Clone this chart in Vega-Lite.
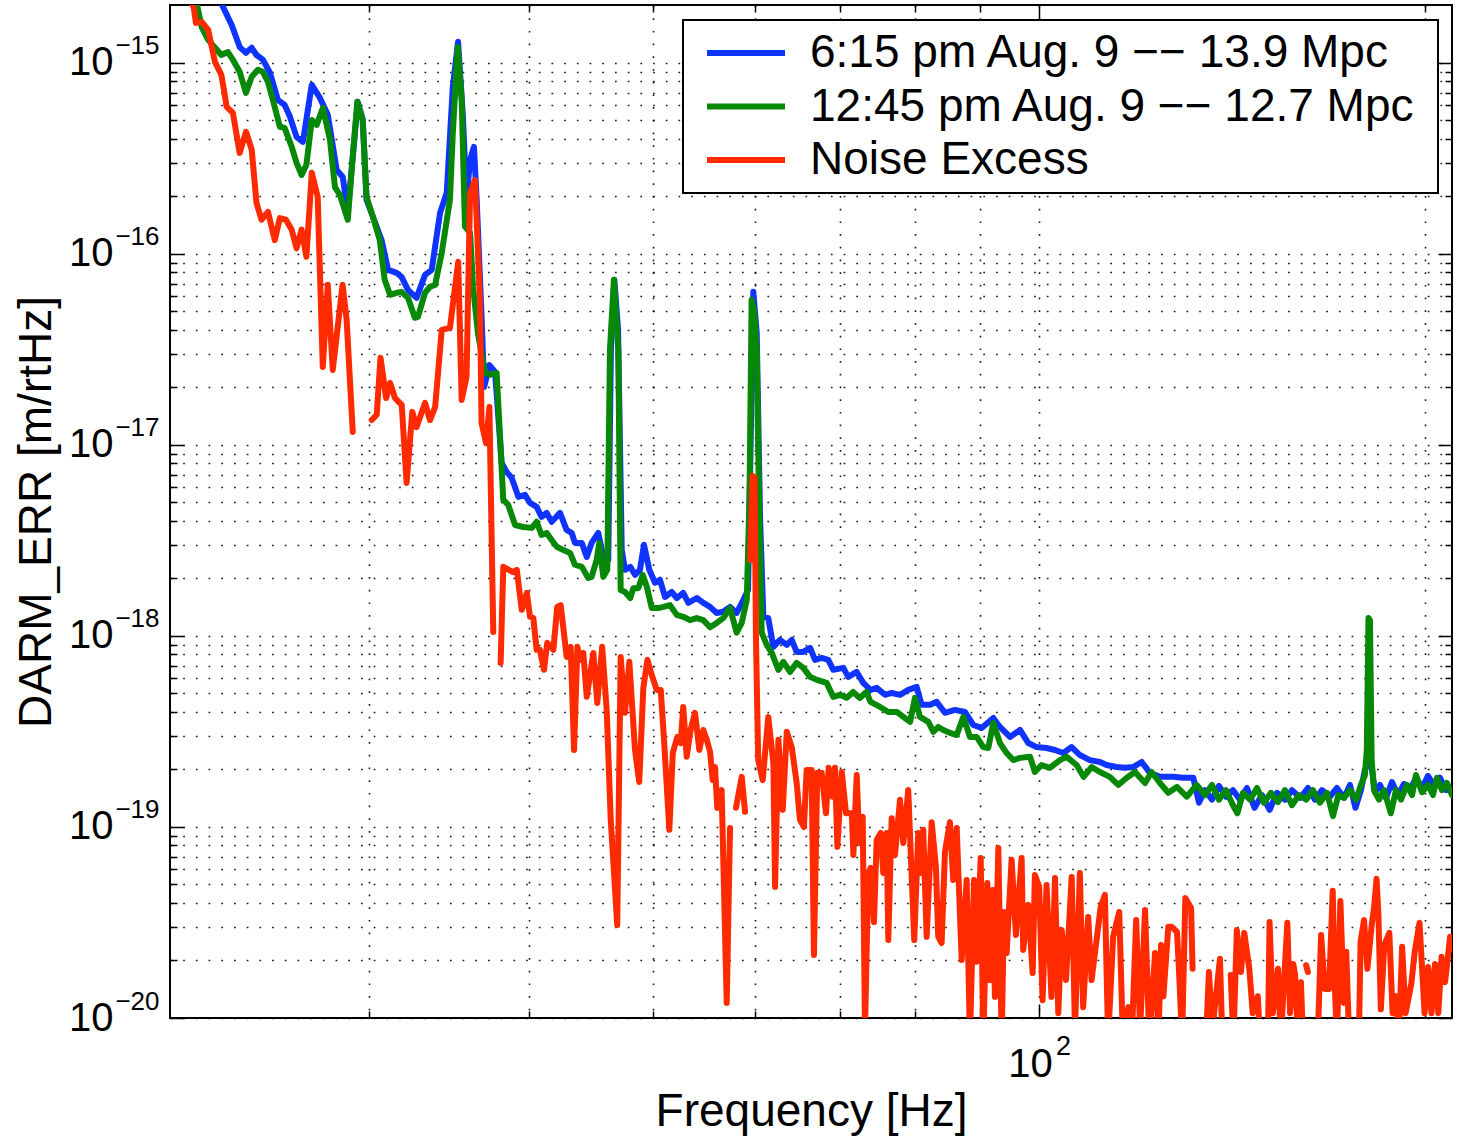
{
"$schema": "https://vega.github.io/schema/vega-lite/v6.json",
"width": 1282, "height": 1013,
"autosize": {"type": "none"},
"padding": {"left": 170, "top": 5, "right": 6, "bottom": 118},
"background": "white",
"config": {"font": "Liberation Sans", "view": {"stroke": "black", "strokeWidth": 2}},
"datasets": {
"blue": [{"f":21,"v":5.61e-15},{"f":22.0,"v":3.26e-15},{"f":23.06,"v":2.01e-15},{"f":23.46,"v":1.58e-15},{"f":23.80,"v":1.21e-15},{"f":24.07,"v":1.13e-15},{"f":24.32,"v":1.20e-15},{"f":24.53,"v":1.10e-15},{"f":24.81,"v":1.04e-15},{"f":25.13,"v":8.88e-16},{"f":25.49,"v":6.41e-16},{"f":25.80,"v":6.03e-16},{"f":26.05,"v":5.22e-16},{"f":26.36,"v":4.10e-16},{"f":26.66,"v":3.86e-16},{"f":27.09,"v":7.68e-16},{"f":27.49,"v":6.56e-16},{"f":27.88,"v":5.35e-16},{"f":28.14,"v":3.64e-16},{"f":28.33,"v":2.75e-16},{"f":28.64,"v":2.53e-16},{"f":28.90,"v":1.64e-16},{"f":29.42,"v":6.26e-16},{"f":29.69,"v":5.03e-16},{"f":29.89,"v":1.92e-16},{"f":30.24,"v":1.56e-16},{"f":30.71,"v":1.18e-16},{"f":31.07,"v":8.25e-17},{"f":31.55,"v":7.96e-17},{"f":31.83,"v":7.59e-17},{"f":32.20,"v":6.48e-17},{"f":32.70,"v":5.89e-17},{"f":33.20,"v":7.77e-17},{"f":33.60,"v":8.25e-17},{"f":34.11,"v":1.64e-16},{"f":34.52,"v":2.09e-16},{"f":34.90,"v":7.50e-16},{"f":35.23,"v":1.29e-15},{"f":35.54,"v":5.22e-16},{"f":35.77,"v":1.92e-16},{"f":36.0,"v":3.11e-16},{"f":36.25,"v":3.64e-16},{"f":36.43,"v":1.92e-16},{"f":36.75,"v":4.68e-17},{"f":36.92,"v":2.01e-17},{"f":37.27,"v":2.62e-17},{"f":37.65,"v":2.41e-17},{"f":38.10,"v":8.06e-18},{"f":38.44,"v":7.23e-18},{"f":38.79,"v":6.73e-18},{"f":39.26,"v":5.35e-18},{"f":39.73,"v":5.48e-18},{"f":40.09,"v":4.97e-18},{"f":40.57,"v":4.74e-18},{"f":40.93,"v":4.20e-18},{"f":41.31,"v":4.41e-18},{"f":41.68,"v":3.96e-18},{"f":42.31,"v":4.41e-18},{"f":42.81,"v":3.59e-18},{"f":43.21,"v":3.46e-18},{"f":43.46,"v":3.07e-18},{"f":44.0,"v":3.07e-18},{"f":44.39,"v":2.59e-18},{"f":44.78,"v":3.07e-18},{"f":45.32,"v":3.46e-18},{"f":45.73,"v":2.59e-18},{"f":46.14,"v":2.50e-18},{"f":46.36,"v":3.15e-17},{"f":46.65,"v":7.32e-17},{"f":46.96,"v":4.00e-17},{"f":47.27,"v":2.82e-18},{"f":47.55,"v":2.22e-18},{"f":48.0,"v":2.30e-18},{"f":48.41,"v":2.09e-18},{"f":48.84,"v":2.22e-18},{"f":49.20,"v":3.00e-18},{"f":49.67,"v":2.22e-18},{"f":50.18,"v":1.90e-18},{"f":50.63,"v":1.97e-18},{"f":51.09,"v":1.60e-18},{"f":51.71,"v":1.70e-18},{"f":52.18,"v":1.58e-18},{"f":52.79,"v":1.68e-18},{"f":53.28,"v":1.49e-18},{"f":54.09,"v":1.58e-18},{"f":54.73,"v":1.49e-18},{"f":55.40,"v":1.42e-18},{"f":56.06,"v":1.32e-18},{"f":56.72,"v":1.34e-18},{"f":57.42,"v":1.42e-18},{"f":58.11,"v":1.32e-18},{"f":58.80,"v":1.54e-18},{"f":59.31,"v":1.74e-18},{"f":59.63,"v":1.35e-17},{"f":59.87,"v":6.33e-17},{"f":60.24,"v":3.86e-17},{"f":60.6,"v":4.20e-18},{"f":60.96,"v":1.26e-18},{"f":61.50,"v":1.24e-18},{"f":62.07,"v":8.77e-19},{"f":62.81,"v":9.54e-19},{"f":63.58,"v":8.98e-19},{"f":64.15,"v":9.54e-19},{"f":64.72,"v":8.25e-19},{"f":65.50,"v":8.25e-19},{"f":66.30,"v":8.66e-19},{"f":66.89,"v":7.50e-19},{"f":67.70,"v":7.68e-19},{"f":68.50,"v":7.50e-19},{"f":69.12,"v":6.65e-19},{"f":70.38,"v":6.81e-19},{"f":71.01,"v":6.11e-19},{"f":72.09,"v":6.48e-19},{"f":72.94,"v":5.68e-19},{"f":73.9,"v":5.22e-19},{"f":74.72,"v":5.35e-19},{"f":75.85,"v":4.92e-19},{"f":76.76,"v":5.03e-19},{"f":77.92,"v":4.92e-19},{"f":79.08,"v":5.22e-19},{"f":80.29,"v":5.41e-19},{"f":81.0,"v":4.36e-19},{"f":82.24,"v":4.36e-19},{"f":83.22,"v":4.52e-19},{"f":84.47,"v":3.96e-19},{"f":86.0,"v":4.10e-19},{"f":87.56,"v":4.00e-19},{"f":88.87,"v":3.42e-19},{"f":90.23,"v":3.30e-19},{"f":92.13,"v":3.72e-19},{"f":93.24,"v":3.34e-19},{"f":94.93,"v":2.96e-19},{"f":96.66,"v":3.22e-19},{"f":98.11,"v":2.75e-19},{"f":99.59,"v":2.62e-19},{"f":101.38,"v":2.59e-19},{"f":102.93,"v":2.53e-19},{"f":104.46,"v":2.44e-19},{"f":106.06,"v":2.62e-19},{"f":107.63,"v":2.38e-19},{"f":109.59,"v":2.24e-19},{"f":111.58,"v":2.19e-19},{"f":112.92,"v":2.11e-19},{"f":115.0,"v":2.06e-19},{"f":116.72,"v":2.04e-19},{"f":118.46,"v":2.06e-19},{"f":120.27,"v":2.19e-19},{"f":122.06,"v":1.92e-19},{"f":124.29,"v":1.83e-19},{"f":127.30,"v":1.83e-19},{"f":129.60,"v":1.81e-19},{"f":131.95,"v":1.81e-19},{"f":133.31,"v":1.34e-19},{"f":134.74,"v":1.56e-19},{"f":136.46,"v":1.39e-19},{"f":138.18,"v":1.64e-19},{"f":139.93,"v":1.44e-19},{"f":141.69,"v":1.56e-19},{"f":143.48,"v":1.39e-19},{"f":145.31,"v":1.60e-19},{"f":147.31,"v":1.26e-19},{"f":149.28,"v":1.47e-19},{"f":151.35,"v":1.23e-19},{"f":153.36,"v":1.51e-19},{"f":155.56,"v":1.39e-19},{"f":157.54,"v":1.56e-19},{"f":159.9,"v":1.42e-19},{"f":162.12,"v":1.60e-19},{"f":164.17,"v":1.39e-19},{"f":166.27,"v":1.56e-19},{"f":168.67,"v":1.44e-19},{"f":170.80,"v":1.60e-19},{"f":172.96,"v":1.42e-19},{"f":174.84,"v":1.66e-19},{"f":176.56,"v":1.26e-19},{"f":178.32,"v":1.56e-19},{"f":179.6,"v":1.99e-19},{"f":181.06,"v":2.30e-19},{"f":181.9,"v":1.99e-19},{"f":182.88,"v":1.52e-19},{"f":184.53,"v":1.66e-19},{"f":186.53,"v":1.42e-19},{"f":188.53,"v":1.72e-19},{"f":190.58,"v":1.47e-19},{"f":192.65,"v":1.68e-19},{"f":194.73,"v":1.56e-19},{"f":196.84,"v":1.81e-19},{"f":199.0,"v":1.60e-19},{"f":201.13,"v":1.85e-19},{"f":203.31,"v":1.66e-19},{"f":205.52,"v":1.81e-19},{"f":207.74,"v":1.56e-19},{"f":210,"v":1.56e-19}],
"green": [{"f":21,"v":3.46e-15},{"f":21.5,"v":2.56e-15},{"f":22.03,"v":2.06e-15},{"f":22.23,"v":1.54e-15},{"f":22.49,"v":1.32e-15},{"f":22.77,"v":1.20e-15},{"f":23.03,"v":1.10e-15},{"f":23.30,"v":1.14e-15},{"f":23.51,"v":1.04e-15},{"f":23.80,"v":8.98e-16},{"f":24.07,"v":6.97e-16},{"f":24.32,"v":8.46e-16},{"f":24.59,"v":9.20e-16},{"f":24.81,"v":8.98e-16},{"f":25.04,"v":7.96e-16},{"f":25.26,"v":6.41e-16},{"f":25.58,"v":4.63e-16},{"f":25.80,"v":4.57e-16},{"f":26.13,"v":3.64e-16},{"f":26.36,"v":3.00e-16},{"f":26.60,"v":2.59e-16},{"f":26.83,"v":2.93e-16},{"f":27.09,"v":5.03e-16},{"f":27.33,"v":4.74e-16},{"f":27.64,"v":5.82e-16},{"f":27.99,"v":3.96e-16},{"f":28.24,"v":2.24e-16},{"f":28.49,"v":2.04e-16},{"f":28.90,"v":1.51e-16},{"f":29.10,"v":2.75e-16},{"f":29.40,"v":6.26e-16},{"f":29.68,"v":5.03e-16},{"f":29.89,"v":1.99e-16},{"f":30.24,"v":1.56e-16},{"f":30.61,"v":1.18e-16},{"f":30.88,"v":7.32e-17},{"f":31.18,"v":6.11e-17},{"f":31.55,"v":6.26e-17},{"f":31.83,"v":6.33e-17},{"f":32.20,"v":5.89e-17},{"f":32.60,"v":4.63e-17},{"f":32.78,"v":4.68e-17},{"f":33.20,"v":6.26e-17},{"f":33.50,"v":6.73e-17},{"f":33.81,"v":6.89e-17},{"f":34.21,"v":1.01e-16},{"f":34.72,"v":1.92e-16},{"f":34.90,"v":4.30e-16},{"f":35.21,"v":1.21e-15},{"f":35.46,"v":6.41e-16},{"f":35.67,"v":1.39e-16},{"f":36.0,"v":1.29e-16},{"f":36.19,"v":6.73e-17},{"f":36.51,"v":3.86e-17},{"f":36.98,"v":2.38e-17},{"f":37.31,"v":2.33e-17},{"f":37.76,"v":2.38e-17},{"f":37.99,"v":1.10e-17},{"f":38.21,"v":5.16e-18},{"f":38.55,"v":4.86e-18},{"f":39.03,"v":3.81e-18},{"f":39.60,"v":3.72e-18},{"f":40.22,"v":3.68e-18},{"f":40.57,"v":3.96e-18},{"f":40.93,"v":3.38e-18},{"f":41.31,"v":3.46e-18},{"f":41.68,"v":3.18e-18},{"f":42.06,"v":2.93e-18},{"f":42.56,"v":2.82e-18},{"f":43.08,"v":2.72e-18},{"f":43.46,"v":2.36e-18},{"f":44.0,"v":2.30e-18},{"f":44.51,"v":2.01e-18},{"f":44.78,"v":2.04e-18},{"f":45.19,"v":2.50e-18},{"f":45.40,"v":3.07e-18},{"f":45.73,"v":2.04e-18},{"f":46.06,"v":2.22e-18},{"f":46.28,"v":3.15e-17},{"f":46.61,"v":7.32e-17},{"f":46.98,"v":3.15e-17},{"f":47.18,"v":1.74e-18},{"f":47.55,"v":1.70e-18},{"f":48.0,"v":1.58e-18},{"f":48.27,"v":1.78e-18},{"f":48.70,"v":1.78e-18},{"f":49.08,"v":2.09e-18},{"f":49.45,"v":1.81e-18},{"f":49.89,"v":1.40e-18},{"f":50.48,"v":1.40e-18},{"f":50.94,"v":1.42e-18},{"f":51.55,"v":1.45e-18},{"f":52.18,"v":1.29e-18},{"f":52.79,"v":1.26e-18},{"f":53.44,"v":1.21e-18},{"f":54.09,"v":1.24e-18},{"f":54.73,"v":1.21e-18},{"f":55.40,"v":1.11e-18},{"f":56.06,"v":1.17e-18},{"f":56.72,"v":1.24e-18},{"f":57.42,"v":1.40e-18},{"f":58.11,"v":1.04e-18},{"f":58.64,"v":1.17e-18},{"f":59.17,"v":1.54e-18},{"f":59.46,"v":5.16e-18},{"f":59.69,"v":5.75e-17},{"f":59.95,"v":5.09e-17},{"f":60.24,"v":3.15e-17},{"f":60.49,"v":5.16e-18},{"f":60.78,"v":1.04e-18},{"f":61.33,"v":8.98e-19},{"f":61.89,"v":8.15e-19},{"f":62.63,"v":6.65e-19},{"f":63.19,"v":7.32e-19},{"f":63.95,"v":6.48e-19},{"f":64.72,"v":7.23e-19},{"f":65.50,"v":6.81e-19},{"f":66.30,"v":6.11e-19},{"f":67.10,"v":5.89e-19},{"f":68.30,"v":5.68e-19},{"f":69.12,"v":4.80e-19},{"f":69.96,"v":4.92e-19},{"f":70.80,"v":4.74e-19},{"f":71.63,"v":5.09e-19},{"f":72.49,"v":4.74e-19},{"f":73.35,"v":5.09e-19},{"f":73.9,"v":4.52e-19},{"f":75.18,"v":4.25e-19},{"f":76.30,"v":4.00e-19},{"f":77.47,"v":4.00e-19},{"f":78.38,"v":3.77e-19},{"f":79.34,"v":3.55e-19},{"f":80.04,"v":4.74e-19},{"f":80.76,"v":3.77e-19},{"f":81.99,"v":3.55e-19},{"f":82.73,"v":3.15e-19},{"f":83.48,"v":3.34e-19},{"f":84.21,"v":3.22e-19},{"f":85.23,"v":3.11e-19},{"f":86.27,"v":3.03e-19},{"f":87.31,"v":3.77e-19},{"f":88.35,"v":2.96e-19},{"f":89.42,"v":2.96e-19},{"f":90.49,"v":2.62e-19},{"f":91.31,"v":2.59e-19},{"f":92.13,"v":3.51e-19},{"f":93.24,"v":2.75e-19},{"f":94.37,"v":2.44e-19},{"f":95.49,"v":2.24e-19},{"f":96.66,"v":2.30e-19},{"f":98.43,"v":2.33e-19},{"f":99.28,"v":1.94e-19},{"f":100.48,"v":2.11e-19},{"f":101.98,"v":2.04e-19},{"f":103.85,"v":2.24e-19},{"f":105.11,"v":2.33e-19},{"f":107.01,"v":2.11e-19},{"f":108.35,"v":1.83e-19},{"f":109.92,"v":2.06e-19},{"f":111.58,"v":1.94e-19},{"f":113.58,"v":1.83e-19},{"f":115.31,"v":1.66e-19},{"f":117.10,"v":1.81e-19},{"f":118.82,"v":1.94e-19},{"f":121.0,"v":1.70e-19},{"f":122.44,"v":1.94e-19},{"f":124.29,"v":1.70e-19},{"f":126.16,"v":1.51e-19},{"f":128.11,"v":1.62e-19},{"f":130.41,"v":1.44e-19},{"f":132.76,"v":1.66e-19},{"f":134.74,"v":1.47e-19},{"f":136.46,"v":1.66e-19},{"f":138.18,"v":1.39e-19},{"f":139.93,"v":1.56e-19},{"f":141.69,"v":1.30e-19},{"f":142.84,"v":1.18e-19},{"f":144.29,"v":1.51e-19},{"f":146.11,"v":1.39e-19},{"f":147.95,"v":1.60e-19},{"f":149.81,"v":1.34e-19},{"f":151.70,"v":1.51e-19},{"f":153.64,"v":1.35e-19},{"f":155.56,"v":1.56e-19},{"f":157.54,"v":1.30e-19},{"f":159.55,"v":1.47e-19},{"f":161.66,"v":1.39e-19},{"f":163.59,"v":1.56e-19},{"f":165.67,"v":1.34e-19},{"f":167.75,"v":1.51e-19},{"f":169.58,"v":1.14e-19},{"f":171.25,"v":1.47e-19},{"f":172.96,"v":1.42e-19},{"f":174.84,"v":1.56e-19},{"f":176.72,"v":1.39e-19},{"f":178.32,"v":1.66e-19},{"f":179.6,"v":1.87e-19},{"f":180.2,"v":2.53e-19},{"f":180.75,"v":1.24e-18},{"f":181.23,"v":1.21e-18},{"f":181.78,"v":2.24e-19},{"f":182.55,"v":1.56e-19},{"f":184.20,"v":1.39e-19},{"f":185.87,"v":1.56e-19},{"f":188.15,"v":1.18e-19},{"f":189.90,"v":1.56e-19},{"f":191.63,"v":1.39e-19},{"f":193.69,"v":1.66e-19},{"f":195.47,"v":1.47e-19},{"f":196.84,"v":1.87e-19},{"f":199.0,"v":1.52e-19},{"f":201.13,"v":1.66e-19},{"f":202.94,"v":1.47e-19},{"f":204.42,"v":1.81e-19},{"f":206.25,"v":1.56e-19},{"f":208.1,"v":1.70e-19},{"f":210,"v":1.47e-19}],
"red": [{"f":21,"v":3.07e-15},{"f":21.5,"v":2.36e-15},{"f":21.91,"v":1.97e-15},{"f":22.0,"v":1.62e-15},{"f":22.23,"v":1.64e-15},{"f":22.49,"v":1.49e-15},{"f":22.77,"v":1.01e-15},{"f":23.03,"v":8.66e-16},{"f":23.25,"v":5.89e-16},{"f":23.51,"v":5.48e-16},{"f":23.80,"v":3.38e-16},{"f":24.07,"v":4.36e-16},{"f":24.32,"v":3.51e-16},{"f":24.53,"v":1.85e-16},{"f":24.75,"v":1.51e-16},{"f":25.04,"v":1.66e-16},{"f":25.35,"v":1.18e-16},{"f":25.58,"v":1.54e-16},{"f":25.86,"v":1.51e-16},{"f":26.13,"v":1.34e-16},{"f":26.36,"v":1.07e-16},{"f":26.60,"v":1.34e-16},{"f":26.83,"v":9.66e-17},{"f":27.09,"v":2.66e-16},{"f":27.38,"v":1.99e-16},{"f":27.63,"v":2.56e-17},{"f":27.88,"v":6.89e-17},{"f":28.13,"v":2.47e-17},{"f":28.63,"v":6.89e-17},{"f":28.84,"v":4.52e-17},{"f":29.16,"v":1.17e-17},{"f":29.55,"v":null},{"f":30.17,"v":1.35e-17},{"f":30.44,"v":1.44e-17},{"f":30.65,"v":2.86e-17},{"f":30.96,"v":1.76e-17},{"f":31.18,"v":2.11e-17},{"f":31.46,"v":1.76e-17},{"f":31.84,"v":1.62e-17},{"f":32.12,"v":6.33e-18},{"f":32.45,"v":1.49e-17},{"f":32.70,"v":1.24e-17},{"f":33.20,"v":1.66e-17},{"f":33.50,"v":1.35e-17},{"f":33.81,"v":1.58e-17},{"f":34.21,"v":4.00e-17},{"f":34.72,"v":4.10e-17},{"f":35.24,"v":9.09e-17},{"f":35.46,"v":1.72e-17},{"f":35.77,"v":2.27e-17},{"f":36.0,"v":2.09e-16},{"f":36.32,"v":2.44e-16},{"f":36.64,"v":5.75e-17},{"f":36.75,"v":1.30e-17},{"f":37.05,"v":1.02e-17},{"f":37.27,"v":1.58e-17},{"f":37.53,"v":1.05e-18},{"f":37.8,"v":null},{"f":38.03,"v":7.23e-19},{"f":38.21,"v":2.30e-18},{"f":38.88,"v":2.16e-18},{"f":39.15,"v":2.22e-18},{"f":39.50,"v":1.37e-18},{"f":39.86,"v":1.68e-18},{"f":40.09,"v":1.26e-18},{"f":40.33,"v":1.24e-18},{"f":40.57,"v":8.46e-19},{"f":40.81,"v":8.46e-19},{"f":41.11,"v":6.65e-19},{"f":41.35,"v":9.20e-19},{"f":41.81,"v":8.46e-19},{"f":42.10,"v":1.42e-18},{"f":42.36,"v":1.45e-18},{"f":42.82,"v":7.77e-19},{"f":43.13,"v":8.77e-19},{"f":43.39,"v":2.53e-19},{"f":43.65,"v":8.77e-19},{"f":43.86,"v":7.50e-19},{"f":44.12,"v":8.15e-19},{"f":44.39,"v":4.80e-19},{"f":44.92,"v":8.15e-19},{"f":45.24,"v":4.46e-19},{"f":45.64,"v":8.77e-19},{"f":46.01,"v":4.10e-19},{"f":46.34,"v":1.11e-19},{"f":46.89,"v":3.07e-20},{"f":47.18,"v":7.77e-19},{"f":47.55,"v":3.96e-19},{"f":47.92,"v":7.32e-19},{"f":48.41,"v":2.53e-19},{"f":48.78,"v":1.72e-19},{"f":49.14,"v":5.35e-19},{"f":49.50,"v":7.50e-19},{"f":49.89,"v":6.26e-19},{"f":50.33,"v":5.22e-19},{"f":50.70,"v":5.22e-19},{"f":51.0,"v":2.86e-19},{"f":51.49,"v":9.66e-20},{"f":51.81,"v":2.44e-19},{"f":52.23,"v":2.96e-19},{"f":52.55,"v":2.75e-19},{"f":52.79,"v":4.25e-19},{"f":53.12,"v":2.33e-19},{"f":53.49,"v":3.22e-19},{"f":53.92,"v":3.96e-19},{"f":54.34,"v":2.53e-19},{"f":54.73,"v":3.22e-19},{"f":55.07,"v":2.86e-19},{"f":55.40,"v":2.47e-19},{"f":55.66,"v":1.76e-19},{"f":55.89,"v":2.06e-19},{"f":56.12,"v":1.26e-19},{"f":56.56,"v":1.56e-19},{"f":57.08,"v":1.20e-20},{"f":57.42,"v":9.88e-20},{"f":57.73,"v":null},{"f":58.04,"v":1.26e-19},{"f":58.64,"v":1.83e-19},{"f":58.99,"v":1.20e-19},{"f":59.25,"v":null},{"f":59.53,"v":2.50e-18},{"f":59.79,"v":6.89e-18},{"f":60.0,"v":6.73e-18},{"f":60.16,"v":9.54e-19},{"f":60.40,"v":2.24e-19},{"f":60.89,"v":1.76e-19},{"f":61.50,"v":3.77e-19},{"f":62.07,"v":2.16e-19},{"f":62.26,"v":4.86e-20},{"f":62.63,"v":2.86e-19},{"f":63.12,"v":1.23e-19},{"f":63.58,"v":3.15e-19},{"f":64.15,"v":2.62e-19},{"f":64.72,"v":1.70e-19},{"f":65.10,"v":1.09e-19},{"f":65.57,"v":1.00e-19},{"f":65.89,"v":1.99e-19},{"f":66.48,"v":1.99e-19},{"f":66.76,"v":2.14e-20},{"f":67.16,"v":1.92e-19},{"f":67.69,"v":1.92e-19},{"f":68.22,"v":1.18e-19},{"f":68.55,"v":2.04e-19},{"f":69.05,"v":1.44e-19},{"f":69.33,"v":2.04e-19},{"f":69.63,"v":7.87e-20},{"f":70.18,"v":1.94e-19},{"f":70.72,"v":1.18e-19},{"f":71.46,"v":1.18e-19},{"f":71.66,"v":7.14e-20},{"f":72.09,"v":1.87e-19},{"f":72.43,"v":8.25e-20},{"f":72.87,"v":1.13e-19},{"f":73.17,"v":8.65e-21},{"f":73.61,"v":5.75e-20},{"f":73.93,"v":6.11e-20},{"f":74.36,"v":3.18e-20},{"f":74.72,"v":8.56e-20},{"f":75.26,"v":9.31e-20},{"f":75.61,"v":5.75e-20},{"f":76.08,"v":9.31e-20},{"f":76.30,"v":2.56e-20},{"f":76.76,"v":1.11e-19},{"f":77.22,"v":7.14e-20},{"f":77.92,"v":1.39e-19},{"f":78.38,"v":8.25e-20},{"f":79.08,"v":1.56e-19},{"f":79.94,"v":2.56e-20},{"f":80.52,"v":9.31e-20},{"f":80.87,"v":5.75e-20},{"f":81.24,"v":9.66e-20},{"f":81.74,"v":2.66e-20},{"f":82.48,"v":1.06e-19},{"f":83.11,"v":6.18e-20},{"f":83.46,"v":2.66e-20},{"f":83.97,"v":2.47e-20},{"f":84.47,"v":7.41e-20},{"f":85.23,"v":1.06e-19},{"f":85.74,"v":5.28e-20},{"f":86.27,"v":9.88e-20},{"f":87.05,"v":2.01e-20},{"f":87.83,"v":5.28e-20},{"f":88.35,"v":7.67e-21},{"f":89.0,"v":5.28e-20},{"f":89.42,"v":1.97e-20},{"f":90.07,"v":6.89e-20},{"f":90.49,"v":7.67e-21},{"f":91.15,"v":5.09e-20},{"f":91.59,"v":1.58e-20},{"f":92.03,"v":4.68e-20},{"f":92.41,"v":1.29e-20},{"f":92.97,"v":7.77e-20},{"f":93.53,"v":7.67e-21},{"f":93.92,"v":3.59e-20},{"f":94.37,"v":2.19e-20},{"f":95.21,"v":6.73e-20},{"f":95.96,"v":2.72e-20},{"f":96.94,"v":6.89e-20},{"f":97.22,"v":2.27e-20},{"f":98.11,"v":3.91e-20},{"f":98.88,"v":1.72e-20},{"f":99.28,"v":5.61e-20},{"f":100.05,"v":4.86e-20},{"f":100.66,"v":1.24e-20},{"f":101.38,"v":4.97e-20},{"f":102.28,"v":1.29e-20},{"f":102.93,"v":5.41e-20},{"f":103.54,"v":1.06e-20},{"f":104.17,"v":2.89e-20},{"f":104.98,"v":1.58e-20},{"f":106.06,"v":5.48e-20},{"f":106.69,"v":8.65e-21},{"f":107.63,"v":5.75e-20},{"f":108.27,"v":1.14e-20},{"f":109.25,"v":3.38e-20},{"f":109.92,"v":1.58e-20},{"f":111.72,"v":3.81e-20},{"f":112.58,"v":4.41e-20},{"f":113.24,"v":7.67e-21},{"f":114.26,"v":2.66e-20},{"f":115.52,"v":3.59e-20},{"f":116.23,"v":8.65e-21},{"f":117.44,"v":1.14e-20},{"f":118.15,"v":7.67e-21},{"f":119.08,"v":3.26e-20},{"f":119.94,"v":8.65e-21},{"f":121.0,"v":3.68e-20},{"f":121.93,"v":7.67e-21},{"f":123.20,"v":2.19e-20},{"f":123.96,"v":7.67e-21},{"f":124.52,"v":2.41e-20},{"f":125.05,"v":1.30e-20},{"f":126.16,"v":3.00e-20},{"f":126.95,"v":3.00e-20},{"f":128.15,"v":2.82e-20},{"f":128.67,"v":1.66e-20},{"f":129.32,"v":7.67e-21},{"f":130.08,"v":4.25e-20},{"f":131.43,"v":3.77e-20},{"f":131.79,"v":1.81e-20},{"f":133.07,"v":null},{"f":135.0,"v":7.67e-21},{"f":135.71,"v":1.74e-20},{"f":136.54,"v":8.65e-21},{"f":138.43,"v":2.04e-20},{"f":139.02,"v":7.67e-21},{"f":139.93,"v":null},{"f":141.13,"v":1.68e-20},{"f":141.82,"v":7.67e-21},{"f":142.69,"v":2.89e-20},{"f":143.75,"v":1.74e-20},{"f":144.61,"v":2.79e-20},{"f":145.92,"v":1.81e-20},{"f":146.82,"v":1.06e-20},{"f":148.16,"v":1.30e-20},{"f":148.75,"v":7.67e-21},{"f":149.81,"v":null},{"f":150.88,"v":7.67e-21},{"f":151.33,"v":3.18e-20},{"f":152.23,"v":1.06e-20},{"f":153.64,"v":1.81e-20},{"f":154.39,"v":7.67e-21},{"f":156.24,"v":3.15e-20},{"f":157.0,"v":1.06e-20},{"f":157.9,"v":1.92e-20},{"f":158.4,"v":1.70e-20},{"f":159.3,"v":7.67e-21},{"f":160.1,"v":1.54e-20},{"f":160.7,"v":7.67e-21},{"f":161.2,"v":null},{"f":161.6,"v":1.89e-20},{"f":162.1,"v":1.74e-20},{"f":163.3,"v":null},{"f":165.0,"v":7.67e-21},{"f":166.0,"v":2.72e-20},{"f":167.1,"v":1.42e-20},{"f":168.4,"v":1.42e-20},{"f":169.5,"v":4.63e-20},{"f":170.1,"v":1.54e-20},{"f":170.8,"v":7.67e-21},{"f":171.85,"v":4.10e-20},{"f":172.93,"v":1.20e-20},{"f":173.67,"v":2.22e-20},{"f":174.6,"v":7.67e-21},{"f":176.1,"v":null},{"f":177.65,"v":7.67e-21},{"f":178.2,"v":2.50e-20},{"f":179.3,"v":3.26e-20},{"f":180.4,"v":1.81e-20},{"f":181.8,"v":3.07e-20},{"f":182.55,"v":3.77e-20},{"f":183.4,"v":5.35e-20},{"f":184.0,"v":3.46e-20},{"f":184.8,"v":1.11e-20},{"f":185.95,"v":2.41e-20},{"f":187.65,"v":2.79e-20},{"f":188.75,"v":1.06e-20},{"f":189.9,"v":1.30e-20},{"f":190.9,"v":7.67e-21},{"f":192.0,"v":2.36e-20},{"f":193.2,"v":1.06e-20},{"f":195.2,"v":1.51e-20},{"f":196.4,"v":2.22e-20},{"f":198.1,"v":3.15e-20},{"f":199.3,"v":1.54e-20},{"f":199.9,"v":1.06e-20},{"f":201.2,"v":1.85e-20},{"f":202.4,"v":1.06e-20},{"f":203.7,"v":1.92e-20},{"f":204.9,"v":1.06e-20},{"f":206.1,"v":2.09e-20},{"f":207.4,"v":1.54e-20},{"f":209.3,"v":2.66e-20},{"f":210,"v":2.30e-20}]
},
"resolve": {"axis": {"x": "independent", "y": "independent"}},
"layer": [
{
"data": {"name": "blue"},
"mark": {"type": "line", "clip": true, "strokeWidth": 6, "strokeJoin": "round", "strokeCap": "round"},
"encoding": {
"x": {"field": "f", "type": "quantitative", "scale": {"type": "log", "domain": [21, 210], "nice": false},
 "axis": {"orient": "bottom", "values": [100], "labelExpr": "'10'", "ticks": false, "domain": false, "grid": false, "labelFontSize": 40, "labelPadding": 26, "labelOffset": -9, "labelColor": "black", "title": "Frequency [Hz]", "titleFontSize": 46, "titleFontWeight": "normal", "titleColor": "black", "titleX": 641, "titleY": 107, "titleBaseline": "alphabetic", "titleAlign": "center"}},
"y": {"field": "v", "type": "quantitative", "scale": {"type": "log", "domain": [1e-20, 2.01e-15], "nice": false},
 "axis": {"orient": "left", "values": [1e-20, 1e-19, 1e-18, 1e-17, 1e-16, 1e-15], "labelExpr": "'10'", "ticks": false, "domain": false, "grid": false, "labelFontSize": 40, "labelPadding": 57, "labelColor": "black", "labelBaseline": "middle", "title": "DARM_ERR [m/rtHz]", "titleFontSize": 46, "titleFontWeight": "normal", "titleColor": "black", "titleX": -120, "titleY": 506.5, "titleAngle": -90, "titleBaseline": "alphabetic", "titleAlign": "center"}},
"color": {"datum": "6:15 pm Aug. 9 −− 13.9 Mpc", "type": "nominal",
 "scale": {"domain": ["6:15 pm Aug. 9 −− 13.9 Mpc", "12:45 pm Aug. 9 −− 12.7 Mpc", "Noise Excess"], "range": ["#1034ff", "#078807", "#ff2a00"]},
 "legend": {"orient": "none", "legendX": 513, "legendY": 15, "title": " ", "titleOrient": "right", "titleFontSize": 10, "titlePadding": 12, "symbolType": "M-3,0H3", "symbolSize": 676, "symbolStrokeWidth": 6, "labelFontSize": 46, "labelColor": "black", "labelLimit": 1000, "labelOffset": 41, "symbolOffset": 30, "padding": 10, "rowPadding": 7.5, "strokeColor": "black", "fillColor": "white", "encode": {"legend": {"update": {"strokeWidth": {"value": 2}}}}}}
}
},
{
"data": {"name": "green"},
"mark": {"type": "line", "clip": true, "strokeWidth": 6, "strokeJoin": "round", "strokeCap": "round"},
"encoding": {
"x": {"field": "f", "type": "quantitative",
 "axis": {"orient": "bottom", "values": [30, 40, 50, 60, 70, 80, 90, 100, 200], "labels": false, "domain": false, "title": null, "ticks": true, "tickColor": "black", "tickWidth": 1.5, "tickSize": {"condition": {"test": "datum.value == 100", "value": -14}, "value": -7}, "grid": true, "gridColor": "black", "gridDash": [1.7, 11], "gridWidth": 1.6, "gridOpacity": 0.9}},
"y": {"field": "v", "type": "quantitative",
 "axis": {"orient": "left", "values": [1e-20,2e-20,3e-20,4e-20,5e-20,6e-20,7e-20,8e-20,9e-20,1e-19,2e-19,3e-19,4e-19,5e-19,6e-19,7e-19,8e-19,9e-19,1e-18,2e-18,3e-18,4e-18,5e-18,6e-18,7e-18,8e-18,9e-18,1e-17,2e-17,3e-17,4e-17,5e-17,6e-17,7e-17,8e-17,9e-17,1e-16,2e-16,3e-16,4e-16,5e-16,6e-16,7e-16,8e-16,9e-16,1e-15], "labels": false, "domain": false, "title": null, "ticks": true, "tickColor": "black", "tickWidth": 1.5, "tickSize": {"condition": {"test": "abs(log(datum.value)/LN10 - round(log(datum.value)/LN10)) < 0.001", "value": -14}, "value": -7}, "grid": true, "gridColor": "black", "gridDash": [1.7, 11], "gridWidth": 1.6, "gridOpacity": 0.9}},
"color": {"datum": "12:45 pm Aug. 9 −− 12.7 Mpc", "type": "nominal"}
}
},
{
"data": {"name": "red"},
"mark": {"type": "line", "clip": true, "strokeWidth": 6, "strokeJoin": "round", "strokeCap": "round", "invalid": "break-paths-show-domains"},
"encoding": {
"x": {"field": "f", "type": "quantitative",
 "axis": {"orient": "top", "values": [30, 40, 50, 60, 70, 80, 90, 100, 200], "labels": false, "domain": false, "title": null, "grid": false, "ticks": true, "tickColor": "black", "tickWidth": 1.5, "tickSize": {"condition": {"test": "datum.value == 100", "value": -14}, "value": -7}}},
"y": {"field": "v", "type": "quantitative",
 "axis": {"orient": "right", "values": [1e-20,2e-20,3e-20,4e-20,5e-20,6e-20,7e-20,8e-20,9e-20,1e-19,2e-19,3e-19,4e-19,5e-19,6e-19,7e-19,8e-19,9e-19,1e-18,2e-18,3e-18,4e-18,5e-18,6e-18,7e-18,8e-18,9e-18,1e-17,2e-17,3e-17,4e-17,5e-17,6e-17,7e-17,8e-17,9e-17,1e-16,2e-16,3e-16,4e-16,5e-16,6e-16,7e-16,8e-16,9e-16,1e-15], "labels": false, "domain": false, "title": null, "grid": false, "ticks": true, "tickColor": "black", "tickWidth": 1.5, "tickSize": {"condition": {"test": "abs(log(datum.value)/LN10 - round(log(datum.value)/LN10)) < 0.001", "value": -14}, "value": -7}}},
"color": {"datum": "Noise Excess", "type": "nominal"}
}
},
{
"data": {"name": "blue"},
"mark": {"type": "line", "clip": true, "strokeOpacity": 0, "strokeWidth": 1},
"encoding": {
"x": {"field": "f", "type": "quantitative",
 "axis": {"orient": "bottom", "values": [100], "labelExpr": "'2'", "ticks": false, "domain": false, "grid": false, "labelFontSize": 27, "labelPadding": 15, "labelOffset": 24, "labelColor": "black", "title": null}},
"y": {"field": "v", "type": "quantitative",
 "axis": {"orient": "left", "values": [1e-20, 1e-19, 1e-18, 1e-17, 1e-16, 1e-15], "labelExpr": "datum.value < 3e-20 ? '−20' : datum.value < 3e-19 ? '−19' : datum.value < 3e-18 ? '−18' : datum.value < 3e-17 ? '−17' : datum.value < 3e-16 ? '−16' : '−15'", "ticks": false, "domain": false, "grid": false, "labelFontSize": 26, "labelPadding": 11, "labelOffset": -17, "labelColor": "black", "labelBaseline": "middle", "title": null}}
}
}
]
}
